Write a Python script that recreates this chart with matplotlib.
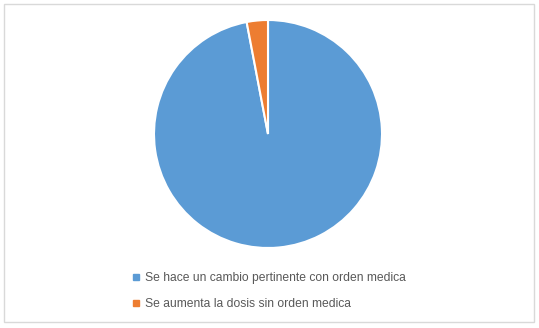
import matplotlib
matplotlib.use("Agg")
import matplotlib.pyplot as plt
from matplotlib.lines import Line2D
from matplotlib.patches import Rectangle

categories = ["Se hace un cambio pertinente con orden medica",
              "Se aumenta la dosis sin orden medica"]
values = [97, 3]
colors = ["#5B9BD5", "#ED7D31"]

W, H = 539, 328
fig = plt.figure(figsize=(W / 100, H / 100), dpi=100)
fig.patch.set_facecolor("white")

# outer border
fig.patches.append(Rectangle((3.5 / W, (H - 322) / H), 530 / W, 318 / H,
                             transform=fig.transFigure, fill=False,
                             edgecolor="#D9D9D9", linewidth=1))

cx, cy, r = 268, 134, 114
ax = fig.add_axes([(cx - r) / W, (H - cy - r) / H, 2 * r / W, 2 * r / H])
ax.pie(values, colors=colors, startangle=90, counterclock=False,
       wedgeprops=dict(edgecolor="white", linewidth=1.5))
ax.set_xlim(-1, 1)
ax.set_ylim(-1, 1)
ax.set_aspect("auto")

handles = [Line2D([], [], marker="s", linestyle="none", markersize=4.5,
                  markerfacecolor=c, markeredgecolor=c) for c in colors]
fig.legend(handles, categories, loc="upper left",
           bbox_to_anchor=(124 / W, 1 - 264 / H), frameon=False,
           prop={"family": "Liberation Sans", "size": 8.7},
           labelcolor="#595959", handlelength=0.6, handletextpad=0.45,
           labelspacing=1.1, borderpad=0.2)

fig.savefig("out.png", dpi=100)
